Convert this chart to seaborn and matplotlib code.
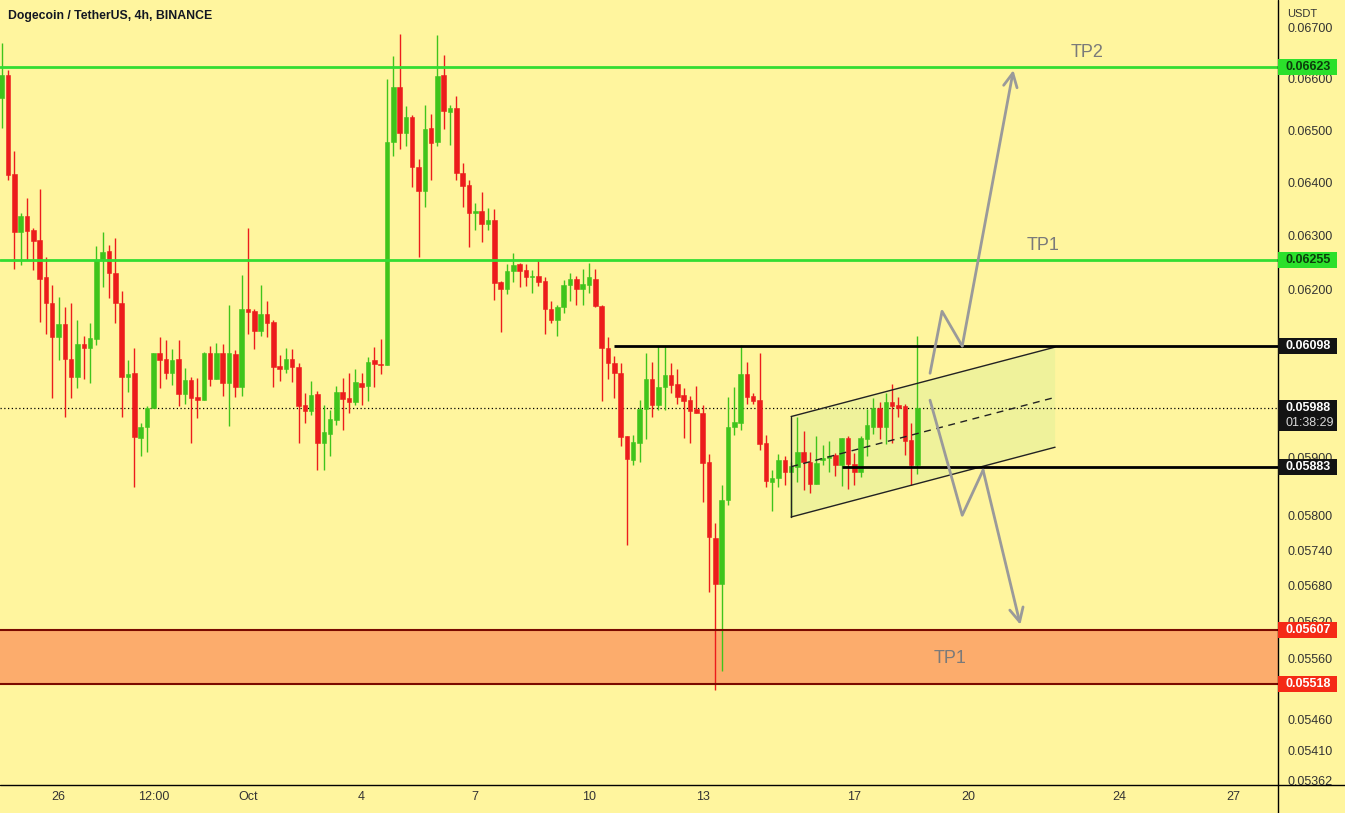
import numpy as np
import pandas as pd
import matplotlib
matplotlib.use("Agg")
import matplotlib.pyplot as plt
import seaborn as sns
from matplotlib.lines import Line2D
from matplotlib.patches import Rectangle
from matplotlib.ticker import FixedLocator, NullLocator, FuncFormatter

# ── 4h candles (DOGE/USDT) ───────────────────────────────────────
OPEN = [
    0.06562, 0.06607, 0.06416, 0.06308, 0.06337, 0.06311, 0.06292, 0.06223, 0.06177, 0.06115,
    0.06138, 0.06074, 0.06043, 0.06102, 0.06094, 0.06110, 0.06255, 0.06272, 0.06232, 0.06177,
    0.06043, 0.06050, 0.05935, 0.05954, 0.05987, 0.06086, 0.06074, 0.06049, 0.06074, 0.06012,
    0.06037, 0.06006, 0.06001, 0.06086, 0.06038, 0.06086, 0.06031, 0.06084, 0.06025, 0.06166,
    0.06161, 0.06126, 0.06156, 0.06142, 0.06062, 0.06057, 0.06074, 0.06060, 0.05992, 0.05982,
    0.06012, 0.05925, 0.05942, 0.05966, 0.06015, 0.06004, 0.05997, 0.06031, 0.06027, 0.06072,
    0.06066, 0.06063, 0.06478, 0.06583, 0.06495, 0.06525, 0.06429, 0.06385, 0.06504, 0.06478,
    0.06607, 0.06536, 0.06543, 0.06418, 0.06396, 0.06343, 0.06347, 0.06322, 0.06330, 0.06215,
    0.06201, 0.06235, 0.06248, 0.06237, 0.06223, 0.06226, 0.06216, 0.06165, 0.06146, 0.06169,
    0.06209, 0.06221, 0.06201, 0.06209, 0.06221, 0.06171, 0.06094, 0.06068, 0.06049, 0.05938,
    0.05896, 0.05926, 0.05985, 0.06038, 0.05992, 0.06024, 0.06046, 0.06030, 0.06010, 0.06001,
    0.05985, 0.05978, 0.05892, 0.05761, 0.05683, 0.05827, 0.05954, 0.05961, 0.06048, 0.06008,
    0.06001, 0.05925, 0.05858, 0.05864, 0.05896, 0.05874, 0.05884, 0.05910, 0.05893, 0.05854,
    0.05896, 0.05899, 0.05904, 0.05887, 0.05934, 0.05889, 0.05875, 0.05932, 0.05954, 0.05988,
    0.05953, 0.05997, 0.05992, 0.05991, 0.05931, 0.05887,
]
HIGH = [
    0.06670, 0.06618, 0.06461, 0.06343, 0.06371, 0.06314, 0.06388, 0.06261, 0.06209, 0.06188,
    0.06169, 0.06177, 0.06145, 0.06116, 0.06140, 0.06281, 0.06308, 0.06283, 0.06297, 0.06199,
    0.06073, 0.06094, 0.05960, 0.05991, 0.06086, 0.06114, 0.06109, 0.06092, 0.06108, 0.06058,
    0.06042, 0.06040, 0.06088, 0.06098, 0.06104, 0.06102, 0.06172, 0.06090, 0.06228, 0.06314,
    0.06166, 0.06209, 0.06180, 0.06146, 0.06082, 0.06094, 0.06092, 0.06068, 0.06013, 0.06036,
    0.06018, 0.05992, 0.05984, 0.06026, 0.06040, 0.06050, 0.06056, 0.06050, 0.06079, 0.06097,
    0.06110, 0.06599, 0.06645, 0.06688, 0.06547, 0.06530, 0.06446, 0.06549, 0.06532, 0.06686,
    0.06647, 0.06549, 0.06566, 0.06438, 0.06406, 0.06362, 0.06382, 0.06352, 0.06350, 0.06217,
    0.06247, 0.06268, 0.06250, 0.06248, 0.06237, 0.06255, 0.06223, 0.06180, 0.06172, 0.06218,
    0.06232, 0.06226, 0.06238, 0.06250, 0.06238, 0.06172, 0.06114, 0.06080, 0.06067, 0.05938,
    0.05939, 0.06001, 0.06086, 0.06070, 0.06098, 0.06098, 0.06067, 0.06056, 0.06022, 0.06008,
    0.06026, 0.05992, 0.05906, 0.05786, 0.05852, 0.06006, 0.06024, 0.06100, 0.06070, 0.06014,
    0.06086, 0.05939, 0.05879, 0.05906, 0.05903, 0.05893, 0.05972, 0.05947, 0.05910, 0.05938,
    0.05922, 0.05929, 0.05908, 0.05935, 0.05938, 0.05908, 0.05938, 0.05985, 0.06004, 0.05998,
    0.06014, 0.06030, 0.06006, 0.05994, 0.05961, 0.06116,
]
LOW = [
    0.06504, 0.06405, 0.06239, 0.06246, 0.06255, 0.06237, 0.06142, 0.06120, 0.06004, 0.06073,
    0.05972, 0.06004, 0.06022, 0.06038, 0.06031, 0.06100, 0.06206, 0.06185, 0.06139, 0.05972,
    0.06016, 0.05848, 0.05903, 0.05910, 0.05987, 0.06022, 0.06038, 0.06028, 0.05991, 0.05994,
    0.05926, 0.05969, 0.06001, 0.06026, 0.06038, 0.06008, 0.05955, 0.06007, 0.06008, 0.06120,
    0.06092, 0.06116, 0.06114, 0.06025, 0.06036, 0.06050, 0.06034, 0.05926, 0.05961, 0.05975,
    0.05879, 0.05879, 0.05903, 0.05957, 0.05949, 0.05978, 0.05992, 0.05992, 0.06000, 0.06024,
    0.06048, 0.06063, 0.06450, 0.06464, 0.06470, 0.06391, 0.06260, 0.06354, 0.06406, 0.06469,
    0.06502, 0.06472, 0.06405, 0.06355, 0.06280, 0.06311, 0.06289, 0.06311, 0.06182, 0.06124,
    0.06193, 0.06215, 0.06205, 0.06207, 0.06194, 0.06207, 0.06120, 0.06139, 0.06116, 0.06157,
    0.06180, 0.06172, 0.06172, 0.06194, 0.06169, 0.06000, 0.06038, 0.06004, 0.05920, 0.05749,
    0.05887, 0.05893, 0.05932, 0.05972, 0.05984, 0.05984, 0.06014, 0.05995, 0.05934, 0.05926,
    0.05978, 0.05823, 0.05670, 0.05508, 0.05538, 0.05818, 0.05939, 0.05948, 0.05995, 0.05994,
    0.05913, 0.05849, 0.05808, 0.05849, 0.05852, 0.05798, 0.05858, 0.05844, 0.05838, 0.05854,
    0.05887, 0.05874, 0.05867, 0.05850, 0.05846, 0.05852, 0.05866, 0.05903, 0.05941, 0.05932,
    0.05924, 0.05925, 0.05971, 0.05904, 0.05852, 0.05871,
]
CLOSE = [
    0.06607, 0.06415, 0.06308, 0.06337, 0.06310, 0.06291, 0.06221, 0.06177, 0.06115, 0.06138,
    0.06074, 0.06043, 0.06102, 0.06094, 0.06112, 0.06255, 0.06271, 0.06232, 0.06176, 0.06043,
    0.06048, 0.05936, 0.05953, 0.05987, 0.06086, 0.06073, 0.06049, 0.06073, 0.06012, 0.06037,
    0.06004, 0.06001, 0.06086, 0.06038, 0.06086, 0.06031, 0.06086, 0.06025, 0.06166, 0.06160,
    0.06126, 0.06156, 0.06140, 0.06061, 0.06057, 0.06074, 0.06060, 0.05991, 0.05982, 0.06010,
    0.05925, 0.05945, 0.05968, 0.06015, 0.06003, 0.05997, 0.06033, 0.06025, 0.06070, 0.06065,
    0.06063, 0.06478, 0.06583, 0.06494, 0.06525, 0.06429, 0.06385, 0.06502, 0.06476, 0.06605,
    0.06538, 0.06543, 0.06418, 0.06394, 0.06343, 0.06347, 0.06322, 0.06330, 0.06213, 0.06201,
    0.06235, 0.06246, 0.06235, 0.06223, 0.06226, 0.06215, 0.06165, 0.06146, 0.06168, 0.06209,
    0.06221, 0.06201, 0.06211, 0.06223, 0.06171, 0.06094, 0.06068, 0.06050, 0.05936, 0.05898,
    0.05928, 0.05985, 0.06038, 0.05992, 0.06024, 0.06046, 0.06028, 0.06007, 0.06000, 0.05982,
    0.05979, 0.05891, 0.05762, 0.05683, 0.05827, 0.05953, 0.05963, 0.06048, 0.06007, 0.06000,
    0.05924, 0.05860, 0.05864, 0.05896, 0.05874, 0.05885, 0.05910, 0.05893, 0.05854, 0.05891,
    0.05900, 0.05902, 0.05887, 0.05934, 0.05889, 0.05875, 0.05934, 0.05957, 0.05988, 0.05953,
    0.05997, 0.05991, 0.05987, 0.05929, 0.05887, 0.05988,
]

# ── Axis labels ──────────────────────────────────────────────────
X_TICK_POS = [9, 24, 39, 57, 75, 93, 111, 135, 153, 177, 195]
X_TICK_LABELS = ["26", "12:00", "Oct", "4", "7", "10", "13", "17", "20", "24", "27"]
Y_TICKS = [0.06700, 0.06600, 0.06500, 0.06400, 0.06300, 0.06200, 0.05900, 0.05800,
           0.05740, 0.05680, 0.05620, 0.05560, 0.05460, 0.05410, 0.05362]

# ── Drawings ─────────────────────────────────────────────────────
TP_LEVELS = [0.06623, 0.06255]          # green targets
RES_LEVEL, RES_START = 0.06098, 97      # black resistance
SUP_LEVEL, SUP_START = 0.05883, 133     # black support
LAST_PRICE = 0.05988
TIMER = "01:38:29"
ZONE = (0.05518, 0.05607)               # orange demand zone

CHANNEL_X = [125, 166.8]
CHANNEL_TOP = [0.05972, 0.06096]
CHANNEL_BOT = [0.05797, 0.05918]
CHANNEL_MID = [0.05884, 0.06006]

UP_PATH_X = [147.0, 148.9, 152.1, 160.2]
UP_PATH_Y = [0.06049, 0.06161, 0.06098, 0.06617]
DOWN_PATH_X = [147.0, 152.1, 155.4, 161.3]
DOWN_PATH_Y = [0.06001, 0.05800, 0.05878, 0.05615]

TP_TEXT = [("TP2", 171.9, 0.06652), ("TP1", 164.9, 0.06283), ("TP1", 150.2, 0.05560)]

BADGES = [
    (0.06623, "#2BE02B", "#0B3D0B"),
    (0.06255, "#2BE02B", "#0B3D0B"),
    (0.06098, "#131313", "white"),
    (0.05883, "#131313", "white"),
    (0.05607, "#F52A16", "white"),
    (0.05518, "#F52A16", "white"),
]

# ── Style ────────────────────────────────────────────────────────
BG = "#FFF59E"
GREEN = "#3FC41C"
RED = "#EC1C1C"
LINE_GREEN = "#33DD33"
GREY = "#9A9A9A"

sns.set_theme(style="white")
plt.rcParams["font.family"] = ["Liberation Sans", "DejaVu Sans"]

W, H = 1345, 813
AX_RIGHT, AX_BOTTOM = 1278, 28
fig = plt.figure(figsize=(W / 100, H / 100), dpi=100, facecolor=BG)
ax = fig.add_axes([0, AX_BOTTOM / H, AX_RIGHT / W, 785 / H], facecolor=BG)

df = pd.DataFrame({"open": OPEN, "high": HIGH, "low": LOW, "close": CLOSE})
df["idx"] = np.arange(len(df))
df["color"] = np.where(df["close"] >= df["open"], GREEN, RED)
body_lo = df[["open", "close"]].min(axis=1)
body_hi = df[["open", "close"]].max(axis=1)
body_h = np.maximum(body_hi - body_lo, 0.000012)

# zone under candles
ax.axhspan(*ZONE, color="#FCAC6C", lw=0, zorder=1)
for lvl in ZONE:
    ax.axhline(lvl, color="#7A0A00", lw=1.5, zorder=5)

# channel
ax.fill([CHANNEL_X[0], CHANNEL_X[1], CHANNEL_X[1], CHANNEL_X[0]],
        [CHANNEL_TOP[0], CHANNEL_TOP[1], CHANNEL_BOT[1], CHANNEL_BOT[0]],
        color="#EAF29A", alpha=0.75, lw=0, zorder=1.5)
ax.plot(CHANNEL_X, CHANNEL_TOP, color="#222", lw=1, zorder=5)
ax.plot(CHANNEL_X, CHANNEL_BOT, color="#222", lw=1, zorder=5)
ax.plot([CHANNEL_X[0]] * 2, [CHANNEL_TOP[0], CHANNEL_BOT[0]], color="#222", lw=1, zorder=5)
ax.plot(CHANNEL_X, CHANNEL_MID, color="#222", lw=1, ls=(0, (5, 4)), zorder=5)

# candles
ax.vlines(df["idx"], df["low"], df["high"], colors=df["color"], lw=1, zorder=3)
ax.bar(df["idx"], body_h, bottom=body_lo, width=0.72, color=df["color"],
       edgecolor=df["color"], lw=0.4, zorder=4)

# levels
for lvl in TP_LEVELS:
    ax.axhline(lvl, color=LINE_GREEN, lw=2, zorder=5)
ax.hlines(RES_LEVEL, RES_START, 210, color="black", lw=2, zorder=5)
ax.hlines(SUP_LEVEL, SUP_START, 210, color="black", lw=2, zorder=5)
ax.axhline(LAST_PRICE, color="black", lw=0.9, ls=(0, (1, 2)), zorder=2)

# scenario arrows
for px, py in [(UP_PATH_X, UP_PATH_Y), (DOWN_PATH_X, DOWN_PATH_Y)]:
    ax.plot(px[:-1], py[:-1], color=GREY, lw=2, solid_capstyle="round", zorder=6)
    ax.annotate("", xy=(px[-1], py[-1]), xytext=(px[-2], py[-2]),
                arrowprops=dict(arrowstyle="->,head_length=0.7,head_width=0.35",
                                color=GREY, lw=2, shrinkA=0, shrinkB=0,
                                mutation_scale=14), zorder=6)

for txt, x, y in TP_TEXT:
    ax.text(x, y, txt, color="#7A7A7A", fontsize=13, ha="center", va="center", zorder=6)

# axes
ax.set_yscale("log")
ax.set_ylim(0.053549, 0.067557)
ax.set_xlim(-0.27, 202.1)
ax.yaxis.set_major_locator(FixedLocator(Y_TICKS))
ax.yaxis.set_minor_locator(NullLocator())
ax.yaxis.set_major_formatter(FuncFormatter(lambda v, _: f"{v:.5f}"))
ax.yaxis.tick_right()
ax.tick_params(axis="y", length=0, pad=6.5, labelsize=9, colors="#333333")
ax.set_xticks(X_TICK_POS, X_TICK_LABELS)
ax.tick_params(axis="x", length=0, pad=4.5, labelsize=9, colors="#333333")
for s in ax.spines.values():
    s.set_visible(False)
ax.grid(False)


# price badges on the scale (boxes placed from the axes' own transform)
def price_px(price):
    return ax.transData.transform((0, price))[1]


def badge(price, fc, tc, lines=None):
    y = price_px(price)
    top = y + 8
    height = 16 if lines is None else 31
    fig.add_artist(Rectangle((AX_RIGHT / W, (top - height) / H), 59 / W, height / H,
                             transform=fig.transFigure, fc=fc, ec="none", zorder=8))
    fig.text(1286 / W, y / H, f"{price:.5f}", color=tc, fontsize=9, fontweight="bold",
             va="center", ha="left", zorder=9)
    if lines:
        fig.text(1286 / W, (y - 15) / H, lines, color="#D8D8D8", fontsize=9,
                 va="center", ha="left", zorder=9)


for price, fc, tc in BADGES:
    badge(price, fc, tc)
badge(LAST_PRICE, "#131313", "white", TIMER)

# frame lines of the price / time scales
fig.add_artist(Line2D([AX_RIGHT / W, AX_RIGHT / W], [0, 1], color="black", lw=1))
fig.add_artist(Line2D([0, 1], [AX_BOTTOM / H, AX_BOTTOM / H], color="black", lw=1))

fig.text(8 / W, 1 - 16 / H, "Dogecoin / TetherUS, 4h, BINANCE", fontsize=8.8,
         fontweight="bold", color="#131722", va="center")
fig.text(1287 / W, 1 - 14 / H, "USDT", fontsize=8, color="#333333", va="center")

fig.savefig("out.png", dpi=100, facecolor=BG)
